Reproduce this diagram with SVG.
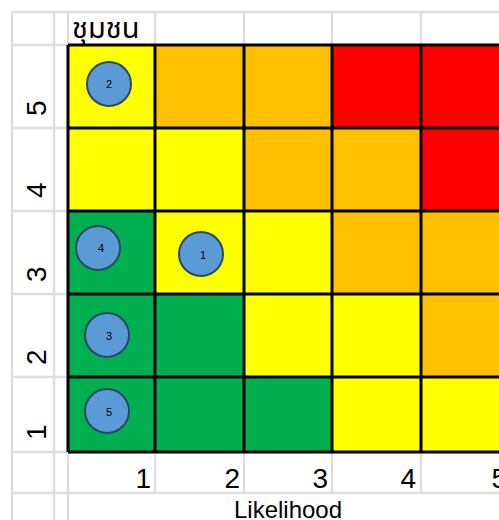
<svg xmlns="http://www.w3.org/2000/svg" width="499" height="520" viewBox="0 0 499 520">
<style>
.g{stroke:#DEDEDE;stroke-width:2.5;fill:none}
.b{stroke:#000;stroke-width:3;fill:none}
.Y{fill:#FFFF00}.O{fill:#FFC000}.R{fill:#FF0000}.G{fill:#00B050}
.lbl{font-family:"Liberation Sans",Arial,sans-serif;font-size:28px;fill:#000}
.c circle{fill:#5B9BD5;stroke:#2B4766;stroke-width:2}
.c text{font-family:"Liberation Sans",Arial,sans-serif;font-size:11px;fill:#000;text-anchor:middle}
</style>
<rect width="499" height="520" fill="#fff"/>
<g id="sheet-grid">
<path class="g" d="M12 12H499M12 45H68M12 128H68M12 211H68M12 294H68M12 377H68M12 452H499M12 493H499M12 12V520M54 12V520M68 12V520M155 12V45M244 12V45M332 12V45M421 12V45M155 452V493M244 452V493M332 452V493M421 452V493"/>
</g>
<g id="matrix">
<rect class="Y" x="68" y="45" width="87" height="83"/><rect class="O" x="155" y="45" width="89" height="83"/><rect class="O" x="244" y="45" width="88" height="83"/><rect class="R" x="332" y="45" width="89" height="83"/><rect class="R" x="421" y="45" width="80" height="83"/>
<rect class="Y" x="68" y="128" width="87" height="83"/><rect class="Y" x="155" y="128" width="89" height="83"/><rect class="O" x="244" y="128" width="88" height="83"/><rect class="O" x="332" y="128" width="89" height="83"/><rect class="R" x="421" y="128" width="80" height="83"/>
<rect class="G" x="68" y="211" width="87" height="83"/><rect class="Y" x="155" y="211" width="89" height="83"/><rect class="Y" x="244" y="211" width="88" height="83"/><rect class="O" x="332" y="211" width="89" height="83"/><rect class="O" x="421" y="211" width="80" height="83"/>
<rect class="G" x="68" y="294" width="87" height="83"/><rect class="G" x="155" y="294" width="89" height="83"/><rect class="Y" x="244" y="294" width="88" height="83"/><rect class="Y" x="332" y="294" width="89" height="83"/><rect class="O" x="421" y="294" width="80" height="83"/>
<rect class="G" x="68" y="377" width="87" height="75"/><rect class="G" x="155" y="377" width="89" height="75"/><rect class="G" x="244" y="377" width="88" height="75"/><rect class="Y" x="332" y="377" width="89" height="75"/><rect class="Y" x="421" y="377" width="80" height="75"/>
<path class="b" d="M68 45H501M68 128H501M68 211H501M68 294H501M68 377H501M68 452H501M68 45V452M155 45V452M244 45V452M332 45V452M421 45V452"/>
</g>
<g id="title">
<text x="72" y="38" font-family="'Noto Sans Thai','Tahoma','DejaVu Sans',sans-serif" font-size="29" fill="#000">ชุมชน</text>
</g>
<g id="row-labels">
<text class="lbl" transform="translate(46,116) rotate(-90)">5</text>
<text class="lbl" transform="translate(46,198) rotate(-90)">4</text>
<text class="lbl" transform="translate(46,282) rotate(-90)">3</text>
<text class="lbl" transform="translate(46,365) rotate(-90)">2</text>
<text class="lbl" transform="translate(46,440) rotate(-90)">1</text>
</g>
<g id="col-labels" text-anchor="end">
<text class="lbl" x="151" y="488">1</text>
<text class="lbl" x="240" y="488">2</text>
<text class="lbl" x="328" y="488">3</text>
<text class="lbl" x="416" y="488">4</text>
<text class="lbl" x="507" y="488">5</text>
</g>
<g id="axis-label">
<text x="288" y="518" font-family="'Liberation Sans',Arial,sans-serif" font-size="24" text-anchor="middle" fill="#000">Likelihood</text>
</g>
<g id="risk-2" class="c"><circle cx="109" cy="84" r="22"/><text x="109" y="88">2</text></g>
<g id="risk-4" class="c"><circle cx="98" cy="248" r="22"/><text x="101" y="252">4</text></g>
<g id="risk-1" class="c"><circle cx="201" cy="254" r="22"/><text x="203" y="259">1</text></g>
<g id="risk-3" class="c"><circle cx="107" cy="335" r="22"/><text x="109" y="340">3</text></g>
<g id="risk-5" class="c"><circle cx="107" cy="411" r="22"/><text x="109" y="416">5</text></g>
</svg>
